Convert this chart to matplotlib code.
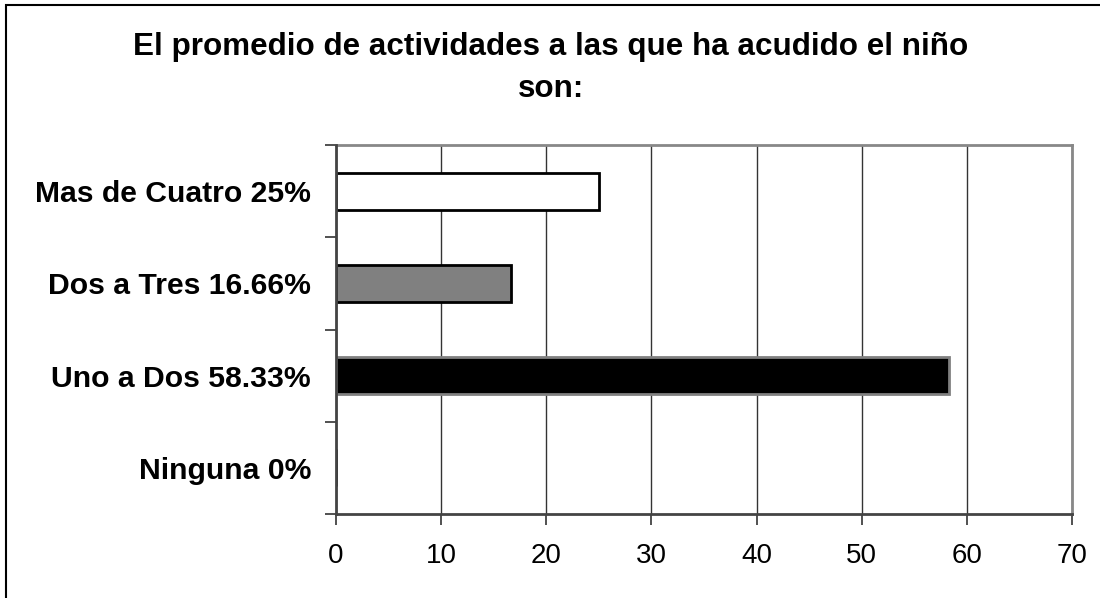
import matplotlib
matplotlib.use("Agg")
import matplotlib.pyplot as plt
from matplotlib.patches import Rectangle
from matplotlib.ticker import FixedLocator, NullFormatter

plt.rcParams['font.family'] = ['Liberation Sans', 'DejaVu Sans']

categories = ["Ninguna 0%", "Uno a Dos 58.33%", "Dos a Tres 16.66%", "Mas de Cuatro 25%"]
values = [0, 58.33, 16.66, 25]
face_colors = ["#000000", "#000000", "#808080", "#ffffff"]
edge_colors = ["#000000", "#808080", "#000000", "#000000"]
x_ticks = [0, 10, 20, 30, 40, 50, 60, 70]
title = "El promedio de actividades a las que ha acudido el niño\nson:"

fig = plt.figure(figsize=(11, 5.98), dpi=100)
ax = fig.add_axes([336/1100, 1 - 514/598, (1072-336)/1100, (514-145)/598])

positions = list(range(len(categories)))
ax.barh(positions, values, height=0.4, color=face_colors,
        edgecolor=edge_colors, linewidth=2, zorder=3)

ax.set_xlim(0, 70)
ax.set_ylim(-0.5, len(categories) - 0.5)
ax.set_xticks(x_ticks)
ax.set_xticklabels([str(t) for t in x_ticks], fontsize=20)
ax.set_yticks(positions)
ax.set_yticklabels(categories, fontsize=21.7, fontweight='bold')
ax.yaxis.set_minor_locator(FixedLocator([p - 0.5 for p in positions] + [len(categories) - 0.5]))
ax.yaxis.set_minor_formatter(NullFormatter())
ax.tick_params(axis='y', which='major', length=0, pad=18)
ax.tick_params(axis='y', which='minor', length=8, width=1.2, color='#333333', direction='out')
ax.tick_params(axis='x', which='major', length=8, width=1.2, color='#333333', direction='out', pad=13)

ax.grid(axis='x', color='#333333', linewidth=1, zorder=1)
ax.set_axisbelow(True)

for side in ['top', 'right']:
    ax.spines[side].set_color('#888888')
    ax.spines[side].set_linewidth(2)
for side in ['left', 'bottom']:
    ax.spines[side].set_color('#444444')
    ax.spines[side].set_linewidth(2)
    ax.spines[side].set_zorder(4)

fig.text(551/1100, 1 - 68/598, title, ha='center', va='center',
         fontsize=22.6, fontweight='bold', linespacing=1.55)

# outer frame of the chart area
fig.patches.append(Rectangle((6/1100, -0.1), 1.2, 1 - 5/598 + 0.1,
                             transform=fig.transFigure, fill=False,
                             edgecolor='#000000', linewidth=1.5))

fig.savefig("out.png", dpi=100)
